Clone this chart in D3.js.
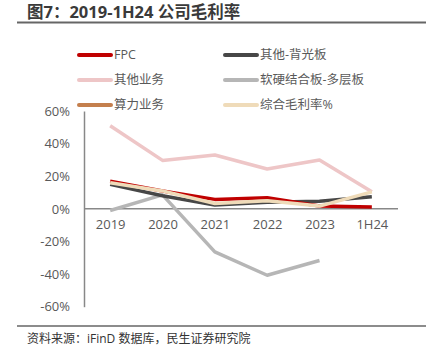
<!DOCTYPE html>
<html>
<head>
<meta charset="utf-8">
<script src="https://cdn.jsdelivr.net/npm/d3@7"></script>
<style>
  body { margin: 0; background: #fff; }
  text { font-family: "Open Sans", "Noto Sans CJK SC", sans-serif; }
</style>
</head>
<body>
<script>
// categories and tick labels
var years = ["2019", "2020", "2021", "2022", "2023", "1H24"];
var yTicks = [60, 40, 20, 0, -20, -40, -60];

// series values (%)
var fpc      = [17, 11, 5.8, 6.8, 1.7, 1.2];
var backlit  = [15, 8, 2.3, 4, 4.7, 7.4];
var otherBiz = [51, 29.7, 33, 24.4, 30, 10.5];
var rigidFlex = [-1, 8.6, -26.4, -40.7, -31.7, null];
var compute  = [null, null, null, null, null, null];
var overall  = [16, 11, 3.3, 5, 1.7, 10.4];

var seriesNames = ["FPC", "其他-背光板", "其他业务", "软硬结合板-多层板", "算力业务", "综合毛利率%"];
var seriesColors = ["#C00000", "#474747", "#EEC6C7", "#B6B6B6", "#C47F4D", "#EFDBB9"];
var seriesValues = [fpc, backlit, otherBiz, rigidFlex, compute, overall];

// page layout
var p = {
    width: 426,
    height: 363,
    left: 84,
    right: 398,
    top: 111,
    bottom: 306.7
};

var svg = d3.select("body").append("svg")
    .attr("width", p.width).attr("height", p.height);

// title and rules
svg.append("text").attr("x", 27).attr("y", 18)
    .style("font-size", "16.5px").style("font-weight", "bold").attr("fill", "#3a3a3a")
    .text("图7：2019-1H24 公司毛利率");
svg.append("line").attr("x1", 17).attr("x2", 426).attr("y1", 22.5).attr("y2", 22.5)
    .attr("stroke", "#666").attr("stroke-width", 2);
svg.append("line").attr("x1", 17).attr("x2", 426).attr("y1", 326).attr("y2", 326)
    .attr("stroke", "#666").attr("stroke-width", 1.5);
svg.append("text").attr("x", 27).attr("y", 343)
    .style("font-size", "12px").attr("fill", "#333")
    .text("资料来源：iFinD 数据库，民生证券研究院");

// scales
var x = d3.scalePoint().domain(years).range([p.left, p.right]).padding(0.5);
var y = d3.scaleLinear().domain([-60, 60]).range([p.bottom, p.top]);

// y axis
var yAxis = svg.append("g").attr("transform", "translate(" + p.left + ",0)")
    .call(d3.axisLeft(y).tickValues(yTicks).tickSize(0).tickPadding(14)
        .tickFormat(function(d) { return d + "%"; }));
yAxis.select(".domain").attr("stroke", "#888").attr("stroke-width", 1.5);
yAxis.selectAll("text").style("font-size", "13px").attr("fill", "#595959");

// x axis at zero
var xAxis = svg.append("g").attr("transform", "translate(0," + y(0) + ")")
    .call(d3.axisBottom(x).tickSize(0).tickPadding(11));
xAxis.select(".domain").attr("d", "M" + p.left + ",0H" + p.right)
    .attr("stroke", "#888").attr("stroke-width", 1.5);
xAxis.selectAll("text").style("font-size", "13px").attr("fill", "#595959");

// draw order: pink, gray, dark, red, brown, beige
var order = [2, 3, 1, 0, 4, 5];
var line = d3.line()
    .defined(function(d) { return d != null; })
    .x(function(d, i) { return x(years[i]); })
    .y(function(d) { return y(d); });

order.forEach(function(k) {
    svg.append("path").datum(seriesValues[k])
        .attr("d", line)
        .attr("fill", "none")
        .attr("stroke", seriesColors[k])
        .attr("stroke-width", 3.5)
        .attr("stroke-linejoin", "round");
});

// legend
var legend = svg.append("g");
seriesNames.forEach(function(name, i) {
    var col = i % 2, row = Math.floor(i / 2);
    var lx = col === 0 ? 79 : 225;
    var ly = 55 + row * 25;
    legend.append("line").attr("x1", lx).attr("x2", lx + 32)
        .attr("y1", ly).attr("y2", ly)
        .attr("stroke", seriesColors[i]).attr("stroke-width", 4)
        .attr("stroke-linecap", "round");
    legend.append("text").attr("x", lx + 35).attr("y", ly)
        .attr("dy", "0.35em")
        .style("font-size", "12.5px").attr("fill", "#595959")
        .text(name);
});
</script>
</body>
</html>
